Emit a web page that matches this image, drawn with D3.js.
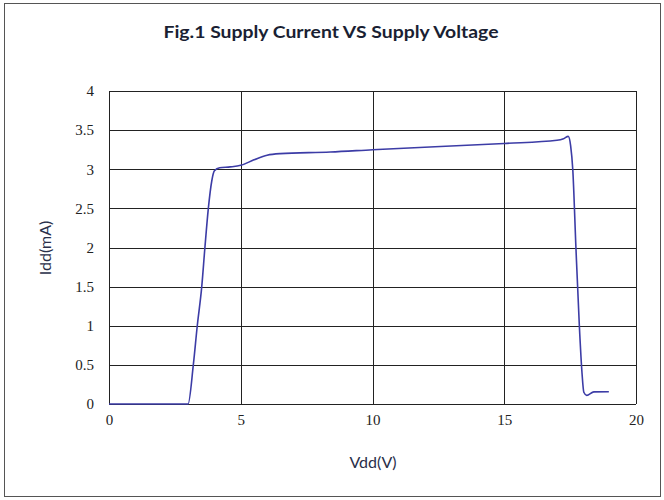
<!doctype html>
<head>
  <title>Supply Current VS Supply Voltage</title>
  <style>
    body { margin: 0; background: #fff; }
  </style>
</head>
<body>
  <script src="https://d3js.org/d3.v7.min.js"></script>
  <svg id="chart" width="664" height="500"></svg>
  <script>
  // curve: supply voltage (V) vs supply current (mA)
  const vdd = [0, 3.0, 3.2, 3.35, 3.52, 3.64, 3.77, 3.9, 4.0, 4.2, 4.6, 5.0, 5.5, 6.0, 6.5, 8.4, 10, 15, 17.0, 17.25, 17.43, 17.52, 17.6, 17.72, 17.85, 17.95, 18.02, 18.13, 18.4, 18.97];
  const idd = [0, 0, 0.5, 1.0, 1.5, 2.0, 2.5, 2.85, 2.98, 3.02, 3.03, 3.05, 3.12, 3.18, 3.2, 3.22, 3.25, 3.33, 3.37, 3.39, 3.42, 3.3, 3.0, 2.0, 1.0, 0.4, 0.15, 0.11, 0.155, 0.157];
  const xTicks = [0, 5, 10, 15, 20];
  const yTicks = [0, 0.5, 1, 1.5, 2, 2.5, 3, 3.5, 4];

  const svg = d3.select("#chart");
  const plotL = 109, plotR = 636, plotT = 91, plotB = 404;

  let x = d3.scaleLinear().domain([0, 20]).range([plotL, plotR]);
  let y = d3.scaleLinear().domain([0, 4]).range([plotB, plotT]);

  // outer frame
  svg.append("rect")
    .attr("x", 4.5).attr("y", 3.5)
    .attr("width", 656).attr("height", 493)
    .attr("fill", "none").attr("stroke", "#555");

  // grid
  svg.append("g").selectAll("line")
    .data(yTicks).enter().append("line")
    .attr("x1", plotL).attr("x2", plotR)
    .attr("y1", d => Math.round(y(d)) + 0.5).attr("y2", d => Math.round(y(d)) + 0.5)
    .attr("stroke", "#222");
  svg.append("g").selectAll("line")
    .data(xTicks).enter().append("line")
    .attr("y1", plotT).attr("y2", plotB)
    .attr("x1", d => Math.round(x(d)) + 0.5).attr("x2", d => Math.round(x(d)) + 0.5)
    .attr("stroke", "#222");

  // axes (labels only)
  let styleTicks = g => {
    g.select(".domain").remove();
    g.attr("font-family", "'Liberation Serif', serif").attr("font-size", 15);
    g.selectAll("text").attr("fill", "#222");
  };
  svg.append("g")
    .attr("transform", "translate(0," + plotB + ")")
    .call(d3.axisBottom(x).tickValues(xTicks).tickSize(0).tickPadding(10))
    .call(styleTicks);
  svg.append("g")
    .attr("transform", "translate(" + plotL + ",0)")
    .call(d3.axisLeft(y).tickValues(yTicks).tickSize(0).tickPadding(15).tickFormat(d3.format("")))
    .call(styleTicks);

  // curve
  const pts = vdd.map((v, i) => [v, idd[i]]);
  svg.append("path")
    .datum(pts)
    .attr("fill", "none")
    .attr("stroke", "#3c3ca6")
    .attr("stroke-width", 1.6)
    .attr("d", d3.line().x(d => x(d[0])).y(d => y(d[1])).curve(d3.curveMonotoneX));

  // titles
  svg.append("text")
    .attr("x", 331).attr("y", 38)
    .attr("text-anchor", "middle")
    .attr("textLength", 335).attr("lengthAdjust", "spacingAndGlyphs")
    .style("font-family", "Lato, sans-serif").style("font-weight", "bold").style("font-size", "17px")
    .attr("fill", "#1a1f33")
    .text("Fig.1  Supply Current VS Supply Voltage");
  svg.append("text")
    .attr("x", 373).attr("y", 468)
    .attr("text-anchor", "middle")
    .style("font-family", "Lato, sans-serif").style("font-size", "16px")
    .attr("fill", "#2a2f4a")
    .text("Vdd(V)");
  svg.append("text")
    .attr("transform", "translate(51,248) rotate(-90)")
    .attr("text-anchor", "middle")
    .style("font-family", "Lato, sans-serif").style("font-size", "16px")
    .attr("fill", "#2a2f4a")
    .text("Idd(mA)");
  </script>
</body>
